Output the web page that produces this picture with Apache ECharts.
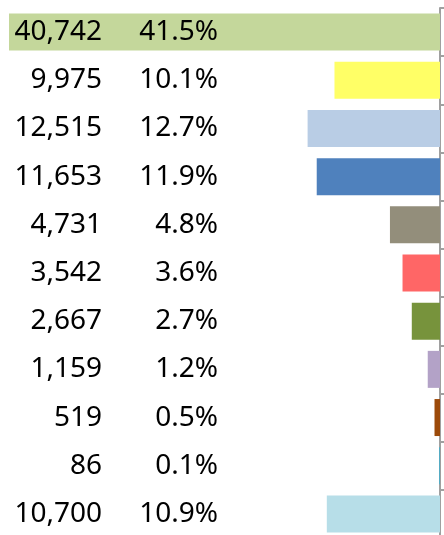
<!DOCTYPE html>
<html>
<head>
<meta charset="utf-8">
<script src="https://cdn.jsdelivr.net/npm/echarts@6/dist/echarts.min.js"></script>
<style>html,body{margin:0;padding:0;background:#fff}#c{width:444px;height:535px}</style>
</head>
<body>
<div id="c"></div>
<script>
const categories = ['c1','c2','c3','c4','c5','c6','c7','c8','c9','c10','c11'];
const values = [40742, 9975, 12515, 11653, 4731, 3542, 2667, 1159, 519, 86, 10700];
const percents = ['41.5%','10.1%','12.7%','11.9%','4.8%','3.6%','2.7%','1.2%','0.5%','0.1%','10.9%'];
const colors = ['#C4D79B','#FFFF66','#B9CDE5','#4F81BD','#938E7B','#FF6666','#77933C','#B3A2C7','#9C4A0A','#4BACC6','#B7DEE8'];

const fmt = v => v.toLocaleString('en-US');
const chart = echarts.init(document.getElementById('c'));
chart.setOption({
  animation: false,
  grid: { left: 9, right: 4, top: 8, bottom: -3, outerBoundsMode: 'none', containLabel: false },
  xAxis: { type: 'value', inverse: true, min: 0, max: 'dataMax', show: false },
  yAxis: [
    {
      type: 'category', data: categories, inverse: true, position: 'right',
      axisLine: { show: true, lineStyle: { color: '#A0A0A0', width: 2 } },
      axisTick: { show: true, length: 4, lineStyle: { color: '#A0A0A0', width: 2 } },
      axisLabel: { show: false }, splitLine: { show: false }
    },
    {
      type: 'category', data: categories, inverse: true, position: 'left', z: 5,
      axisLine: { show: false }, axisTick: { show: false }, splitLine: { show: false },
      axisLabel: {
        inside: true, margin: 0,
        formatter: (v, i) => '{a|' + fmt(values[i]) + '}{b|' + percents[i] + '}',
        rich: {
          a: { width: 93, align: 'right', fontSize: 28, fontFamily: 'Noto Sans', color: '#000' },
          b: { width: 116, align: 'right', fontSize: 28, fontFamily: 'Noto Sans', color: '#000' }
        }
      }
    }
  ],
  series: [{
    type: 'bar', yAxisIndex: 0, barWidth: 37,
    data: values.map((v, i) => ({ value: v, itemStyle: { color: colors[i] } }))
  }]
});
</script>
</body>
</html>
